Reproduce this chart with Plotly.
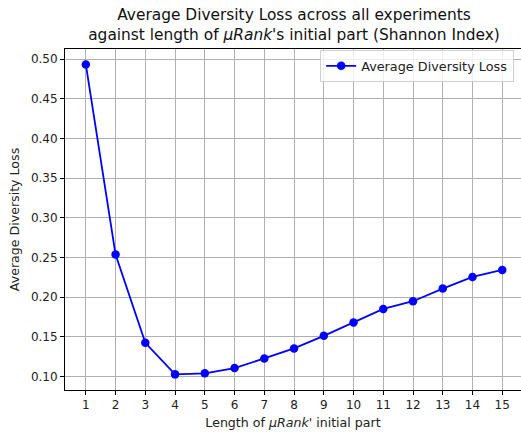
import plotly.graph_objects as go

lengths = list(range(1, 16))
avg_loss = [0.4932, 0.2535, 0.1423, 0.1025, 0.1038, 0.1104, 0.1226, 0.1352,
            0.1511, 0.1679, 0.1850, 0.1947, 0.2107, 0.2253, 0.2341]
y_ticks = [0.10, 0.15, 0.20, 0.25, 0.30, 0.35, 0.40, 0.45, 0.50]

W, H = 521, 434
FONT = "DejaVu Sans"

fig = go.Figure()
fig.add_trace(go.Scatter(
    x=lengths, y=avg_loss, mode="lines+markers",
    name="Average Diversity Loss",
    line=dict(color="#0000ff", width=1.8),
    marker=dict(color="#0000ff", size=8.5),
))

axis_common = dict(
    showline=True, linecolor="black", linewidth=1, mirror=True,
    ticks="outside", ticklen=4, tickcolor="black", tickwidth=1,
    showgrid=True, gridcolor="#b0b0b0", gridwidth=0.8,
    zeroline=False, tickfont=dict(family=FONT, size=12, color="#222"),
)

fig.update_xaxes(
    range=[0.3, 15.63], tickmode="array", tickvals=lengths,
    ticktext=[str(v) for v in lengths],
    title=dict(text="Length of <i>μRank</i>' initial part",
               font=dict(family=FONT, size=12.6, color="#222"), standoff=6),
    **axis_common,
)
fig.update_yaxes(
    range=[0.0828, 0.5127], tickmode="array", tickvals=y_ticks,
    ticktext=[f"{v:.2f}" for v in y_ticks],
    title=dict(text="Average Diversity Loss",
               font=dict(family=FONT, size=12.6, color="#222"), standoff=8),
    **axis_common,
)

fig.update_layout(
    width=W, height=H,
    margin=dict(l=65, r=0, t=49, b=44),
    paper_bgcolor="white", plot_bgcolor="white",
    font=dict(family=FONT, color="#222"),
    title=dict(
        text="Average Diversity Loss across all experiments<br>against length of <i>μRank</i>'s initial part (Shannon Index)",
        font=dict(family=FONT, size=15.4, color="#111"),
        x=294 / W, xanchor="center", xref="container",
        y=1 - 19.5 / H, yanchor="top", yref="container",
    ),
    legend=dict(
        x=0.985, y=0.997, xanchor="right", yanchor="top",
        bgcolor="rgba(255,255,255,0.8)", bordercolor="#d0d0d0", borderwidth=1,
        font=dict(family=FONT, size=12.8, color="#222"),
    ),
    showlegend=True,
)

fig.write_html(
    "out.html",
    config={"displayModeBar": False},
    post_script="document.body.style.margin='0';document.body.style.overflow='hidden';",
)
